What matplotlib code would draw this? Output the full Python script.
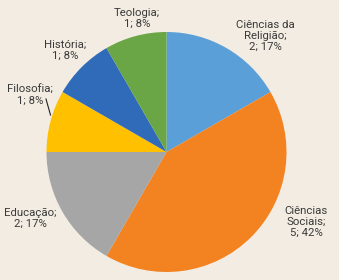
import matplotlib
matplotlib.use('Agg')
import matplotlib.pyplot as plt

categories = ['Ciências da\nReligião', 'Ciências\nSociais', 'Educação', 'Filosofia', 'História', 'Teologia']
counts = [2, 5, 2, 1, 1, 1]
colors = ['#5B9FD8', '#F38221', '#A6A6A6', '#FFC000', '#2F6BB9', '#6AA645']
bg = '#F2ECE2'

# label centres in pixel coords (x, y from top)
label_pos = [(265, 36), (306, 222), (30, 218), (30, 95), (65, 50), (137, 18)]

plt.rcParams['font.family'] = ['Roboto', 'DejaVu Sans']

fig = plt.figure(figsize=(3.39, 2.80), dpi=100)
fig.patch.set_facecolor(bg)
ax = fig.add_axes([0, 0, 1, 1])
ax.set_facecolor(bg)

ax.pie(counts, colors=colors, startangle=90, counterclock=False,
       center=(166.5, 128), radius=120, frame=True,
       wedgeprops=dict(linewidth=0))
ax.set_xlim(0, 339)
ax.set_ylim(0, 280)
ax.set_aspect('equal')
ax.axis('off')

total = sum(counts)
for name, n, (x, y) in zip(categories, counts, label_pos):
    pct = round(100 * n / total)
    ax.text(x, 280 - y, f'{name};\n{n}; {pct}%', ha='center', va='center',
            fontsize=8.2, color='#3A3A3A', linespacing=1.1)

# leader line for Filosofia
ax.plot([46, 50.5], [280 - 99, 280 - 115], color='#222222', linewidth=0.8)

fig.savefig('out.png', dpi=100, facecolor=bg)
